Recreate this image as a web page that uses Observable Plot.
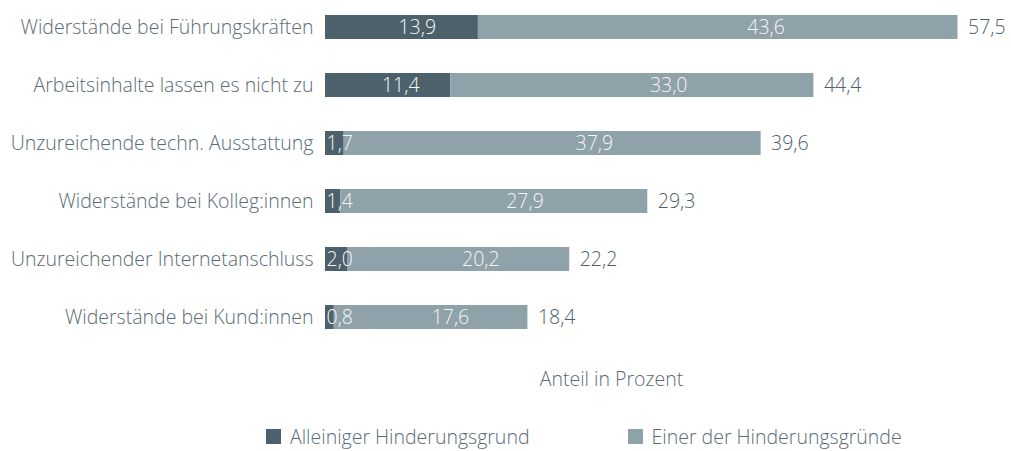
<!DOCTYPE html>
<html>
<head>
<meta charset="utf-8">
<script src="https://cdn.jsdelivr.net/npm/d3@7"></script>
<script src="https://cdn.jsdelivr.net/npm/@observablehq/plot@0.6"></script>
<style>
  html, body { margin: 0; padding: 0; background: #fff; }
  #wrap { width: 1011px; font-family: "Open Sans", sans-serif; color: #5b6b74; }
  .legend { display: flex; padding-left: 266px; height: 29px; align-items: center; font-size: 19.5px; font-weight: 300; }
  .item { display: flex; align-items: center; }
  .sw { width: 15px; height: 15px; margin-right: 9px; }
</style>
</head>
<body>
<div id="wrap"></div>
<script>
const categories = [
  "Widerstände bei Führungskräften",
  "Arbeitsinhalte lassen es nicht zu",
  "Unzureichende techn. Ausstattung",
  "Widerstände bei Kolleg:innen",
  "Unzureichender Internetanschluss",
  "Widerstände bei Kund:innen"
];
const alleiniger = [13.9, 11.4, 1.7, 1.4, 2.0, 0.8];
const einer = [43.6, 33.0, 37.9, 27.9, 20.2, 17.6];
const totals = [57.5, 44.4, 39.6, 29.3, 22.2, 18.4];
const seriesNames = ["Alleiniger Hinderungsgrund", "Einer der Hinderungsgründe"];
const colors = ["#4d616c", "#8fa1a9"];

const fmt = v => v.toFixed(1).replace(".", ",");
const FS = 19.5;

const segs = [];
categories.forEach((c, i) => {
  segs.push({cat: c, series: seriesNames[0], start: 0, value: alleiniger[i]});
  segs.push({cat: c, series: seriesNames[1], start: alleiniger[i], value: einer[i]});
});
const totalRows = categories.map((c, i) => ({cat: c, total: totals[i]}));

const chart = Plot.plot({
  width: 1011,
  height: 422,
  marginLeft: 325,
  marginRight: 114,
  marginTop: 9,
  marginBottom: 86.5,
  style: {fontFamily: "'Open Sans', sans-serif", fontSize: FS + "px", color: "#5b6b74", fontWeight: 300},
  x: {domain: [0, 52]},
  y: {domain: categories, paddingInner: 0.59, paddingOuter: 0.1},
  color: {domain: seriesNames, range: colors},
  marks: [
    Plot.barX(segs, {y: "cat", x1: "start", x2: d => d.start + d.value, fill: "series"}),
    Plot.text(segs.filter(d => d.value >= 5), {
      y: "cat", x: d => d.start + 0.6 * d.value, text: d => fmt(d.value),
      fill: "#f4f6f7", fontSize: FS, textAnchor: "middle"
    }),
    Plot.text(segs.filter(d => d.value < 5), {
      y: "cat", x: "start", text: d => fmt(d.value),
      fill: "#f4f6f7", fontSize: FS, textAnchor: "start", dx: 1
    }),
    Plot.text(totalRows, {
      y: "cat", x: "total", text: d => fmt(d.total),
      fill: "#4f5f69", fontSize: FS, textAnchor: "start", dx: 10
    }),
    Plot.axisY({tickSize: 0, tickPadding: 12, label: null, fontSize: FS, color: "#5b6b74"}),
    Plot.axisX({ticks: [], label: "Anteil in Prozent", labelAnchor: "center", labelArrow: "none", labelOffset: 50, fontSize: FS, color: "#5b6b74"})
  ]
});

const wrap = document.getElementById("wrap");
wrap.appendChild(chart);
const legend = document.createElement("div");
legend.className = "legend";
seriesNames.forEach((s, i) => {
  const it = document.createElement("div");
  it.className = "item";
  if (i === 1) it.style.marginLeft = "98px";
  const sw = document.createElement("div");
  sw.className = "sw";
  sw.style.background = colors[i];
  const t = document.createElement("span");
  t.textContent = s;
  it.appendChild(sw);
  it.appendChild(t);
  legend.appendChild(it);
});
wrap.appendChild(legend);
</script>
</body>
</html>
